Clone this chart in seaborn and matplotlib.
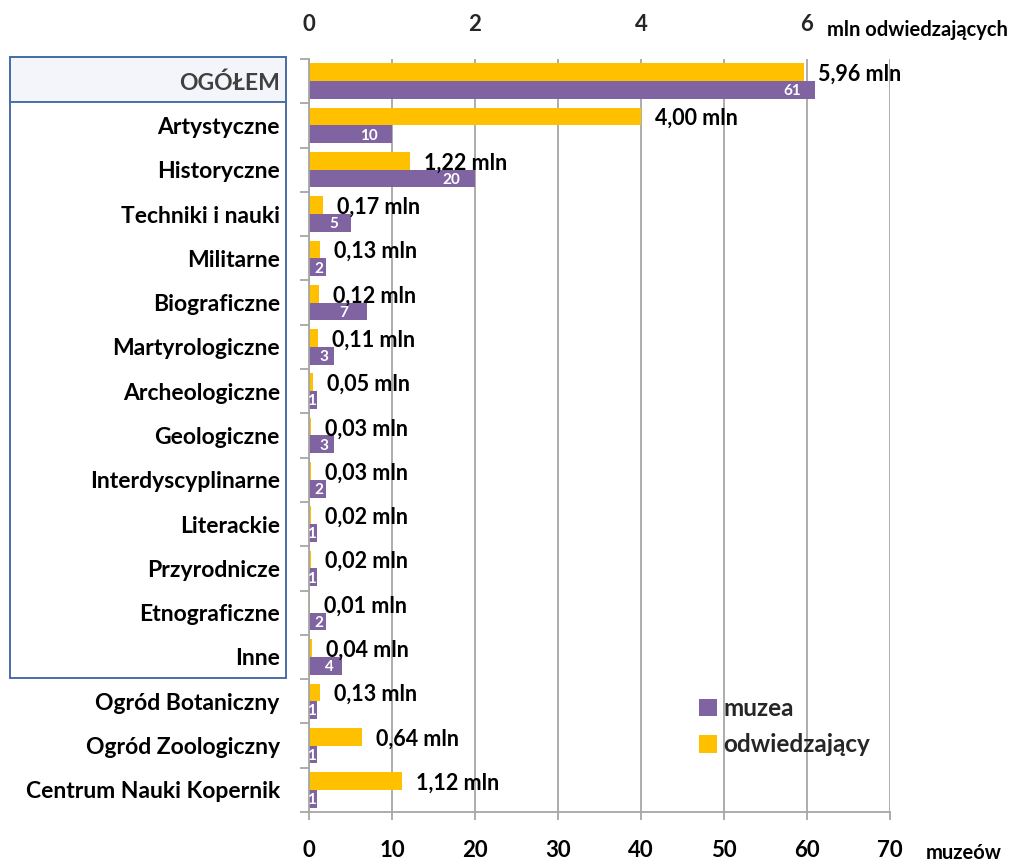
import numpy as np
import pandas as pd
import matplotlib
matplotlib.use("Agg")
import matplotlib.pyplot as plt
from matplotlib.patches import Rectangle, Patch
import seaborn as sns

# ---- data ----
kategorie = ["OGÓŁEM", "Artystyczne", "Historyczne", "Techniki i nauki", "Militarne",
             "Biograficzne", "Martyrologiczne", "Archeologiczne", "Geologiczne",
             "Interdyscyplinarne", "Literackie", "Przyrodnicze", "Etnograficzne", "Inne",
             "Ogród Botaniczny", "Ogród Zoologiczny", "Centrum Nauki Kopernik"]
muzea = [61, 10, 20, 5, 2, 7, 3, 1, 3, 2, 1, 1, 2, 4, 1, 1, 1]
odwiedzajacy_mln = [5.96, 4.00, 1.22, 0.17, 0.13, 0.12, 0.11, 0.05, 0.03, 0.03,
                    0.02, 0.02, 0.01, 0.04, 0.13, 0.64, 1.12]
ticks_muzea = [0, 10, 20, 30, 40, 50, 60, 70]
ticks_mln = [0, 2, 4, 6]
MLN_TO_MUZEA = 10  # top axis: 1 mln visitors spans the same width as 10 museums

SERIES_V = "odwiedzający"
SERIES_M = "muzea"
COL_V = "#FFC000"
COL_M = "#8064A2"
GRID = "#A6A6A6"

df = pd.concat([
    pd.DataFrame({"kategoria": kategorie, "seria": SERIES_V,
                  "wartosc": np.array(odwiedzajacy_mln) * MLN_TO_MUZEA}),
    pd.DataFrame({"kategoria": kategorie, "seria": SERIES_M, "wartosc": muzea}),
])

sns.set_theme(style="white")
plt.rcParams["font.family"] = ["Lato", "DejaVu Sans"]
plt.rcParams["font.weight"] = "bold"

W, H = 1014, 864
fig = plt.figure(figsize=(W / 100, H / 100), dpi=100)
ax = fig.add_axes([309 / W, 1 - 812 / H, (890 - 309) / W, (812 - 59) / H])
ax.patch.set_alpha(0)

sns.barplot(data=df, y="kategoria", x="wartosc", hue="seria",
            hue_order=[SERIES_V, SERIES_M], order=kategorie,
            palette={SERIES_V: COL_V, SERIES_M: COL_M},
            orient="h", width=0.8, gap=0, saturation=1, linewidth=0,
            legend=False, ax=ax)

ax.set_xlim(0, 70)
ax.set_ylim(len(kategorie) - 0.5, -0.5)
ax.set_xlabel("")
ax.set_ylabel("")

# grid & spines
ax.set_axisbelow(True)
ax.xaxis.grid(True, color=GRID, lw=1.3)
ax.yaxis.grid(False)
for s in ["top", "right"]:
    ax.spines[s].set_visible(False)
for s in ["left", "bottom"]:
    ax.spines[s].set_color(GRID)
    ax.spines[s].set_linewidth(1.3)

# bottom axis
ax.set_xticks(ticks_muzea)
ax.set_xticklabels([str(t) for t in ticks_muzea], fontsize=16, fontweight="bold")
ax.tick_params(axis="x", which="major", bottom=True, length=6, width=1.3,
               color=GRID, pad=14, labelcolor="black")

# left axis: category labels, boundary ticks
ax.set_yticks(range(len(kategorie)))
ax.set_yticklabels(kategorie, fontsize=16.5, fontweight="bold")
ax.tick_params(axis="y", which="major", length=0, pad=21)
ax.set_yticks(np.arange(-0.5, len(kategorie), 1), minor=True)
ax.tick_params(axis="y", which="minor", left=True, length=6.5, width=1.3, color=GRID)
for lbl in ax.get_yticklabels():
    if lbl.get_text() == "OGÓŁEM":
        lbl.set_color("#404040")
    else:
        lbl.set_color("black")

# top axis (mln visitors)
sec = ax.secondary_xaxis("top", functions=(lambda x: x / MLN_TO_MUZEA,
                                           lambda x: x * MLN_TO_MUZEA))
sec.set_xticks(ticks_mln)
sec.set_xticklabels([str(t) for t in ticks_mln], fontsize=16, fontweight="bold")
sec.tick_params(axis="x", length=0, pad=17)
sec.spines["top"].set_visible(False)

# value labels
bars_v = ax.containers[0]
bars_m = ax.containers[1]
for rect, v in zip(bars_v, odwiedzajacy_mln):
    yc = rect.get_y() + rect.get_height() / 2
    ax.annotate(f"{v:.2f}".replace(".", ",") + " mln",
                xy=(rect.get_x() + rect.get_width(), yc),
                xytext=(10, -1.5), textcoords="offset points",
                ha="left", va="center", fontsize=15.5, fontweight="bold",
                color="black")
for rect, m in zip(bars_m, muzea):
    yc = rect.get_y() + rect.get_height() / 2
    xc = max(m - 2.8, m * 0.6) if m > 1 else 0.3
    ax.text(xc, yc + 0.03, str(m), ha="center", va="center",
            fontsize=11, fontweight="bold", color="white")

# axis unit texts
fig.text(827 / W, 1 - 30 / H, "mln odwiedzających", ha="left", va="center",
         fontsize=14.5, fontweight="bold", color="black")
fig.text(926 / W, 1 - 853 / H, "muzeów", ha="left", va="center",
         fontsize=14.5, fontweight="bold", color="black")

# boxes around museum categories
box_col = "#4A6FA5"
fig.patches.append(Rectangle((10 / W, 1 - 102 / H), 276 / W, 45 / H,
                             transform=fig.transFigure, facecolor="#F3F5FA",
                             edgecolor=box_col, lw=1.4, zorder=-1))
fig.patches.append(Rectangle((10 / W, 1 - 678 / H), 276 / W, (678 - 57) / H,
                             transform=fig.transFigure, facecolor="none",
                             edgecolor=box_col, lw=1.4, zorder=-1))

# legend
handles = [Patch(facecolor=COL_M, edgecolor="none"),
           Patch(facecolor=COL_V, edgecolor="none")]
fig.legend(handles, [SERIES_M, SERIES_V], loc="upper left",
           bbox_to_anchor=(699 / W, 1 - 697 / H), frameon=False,
           prop={"size": 17.5, "weight": "bold"}, handlelength=0.75,
           handleheight=0.75, handletextpad=0.25, labelspacing=0.55,
           borderpad=0, borderaxespad=0)

fig.savefig("out.png", dpi=100)
